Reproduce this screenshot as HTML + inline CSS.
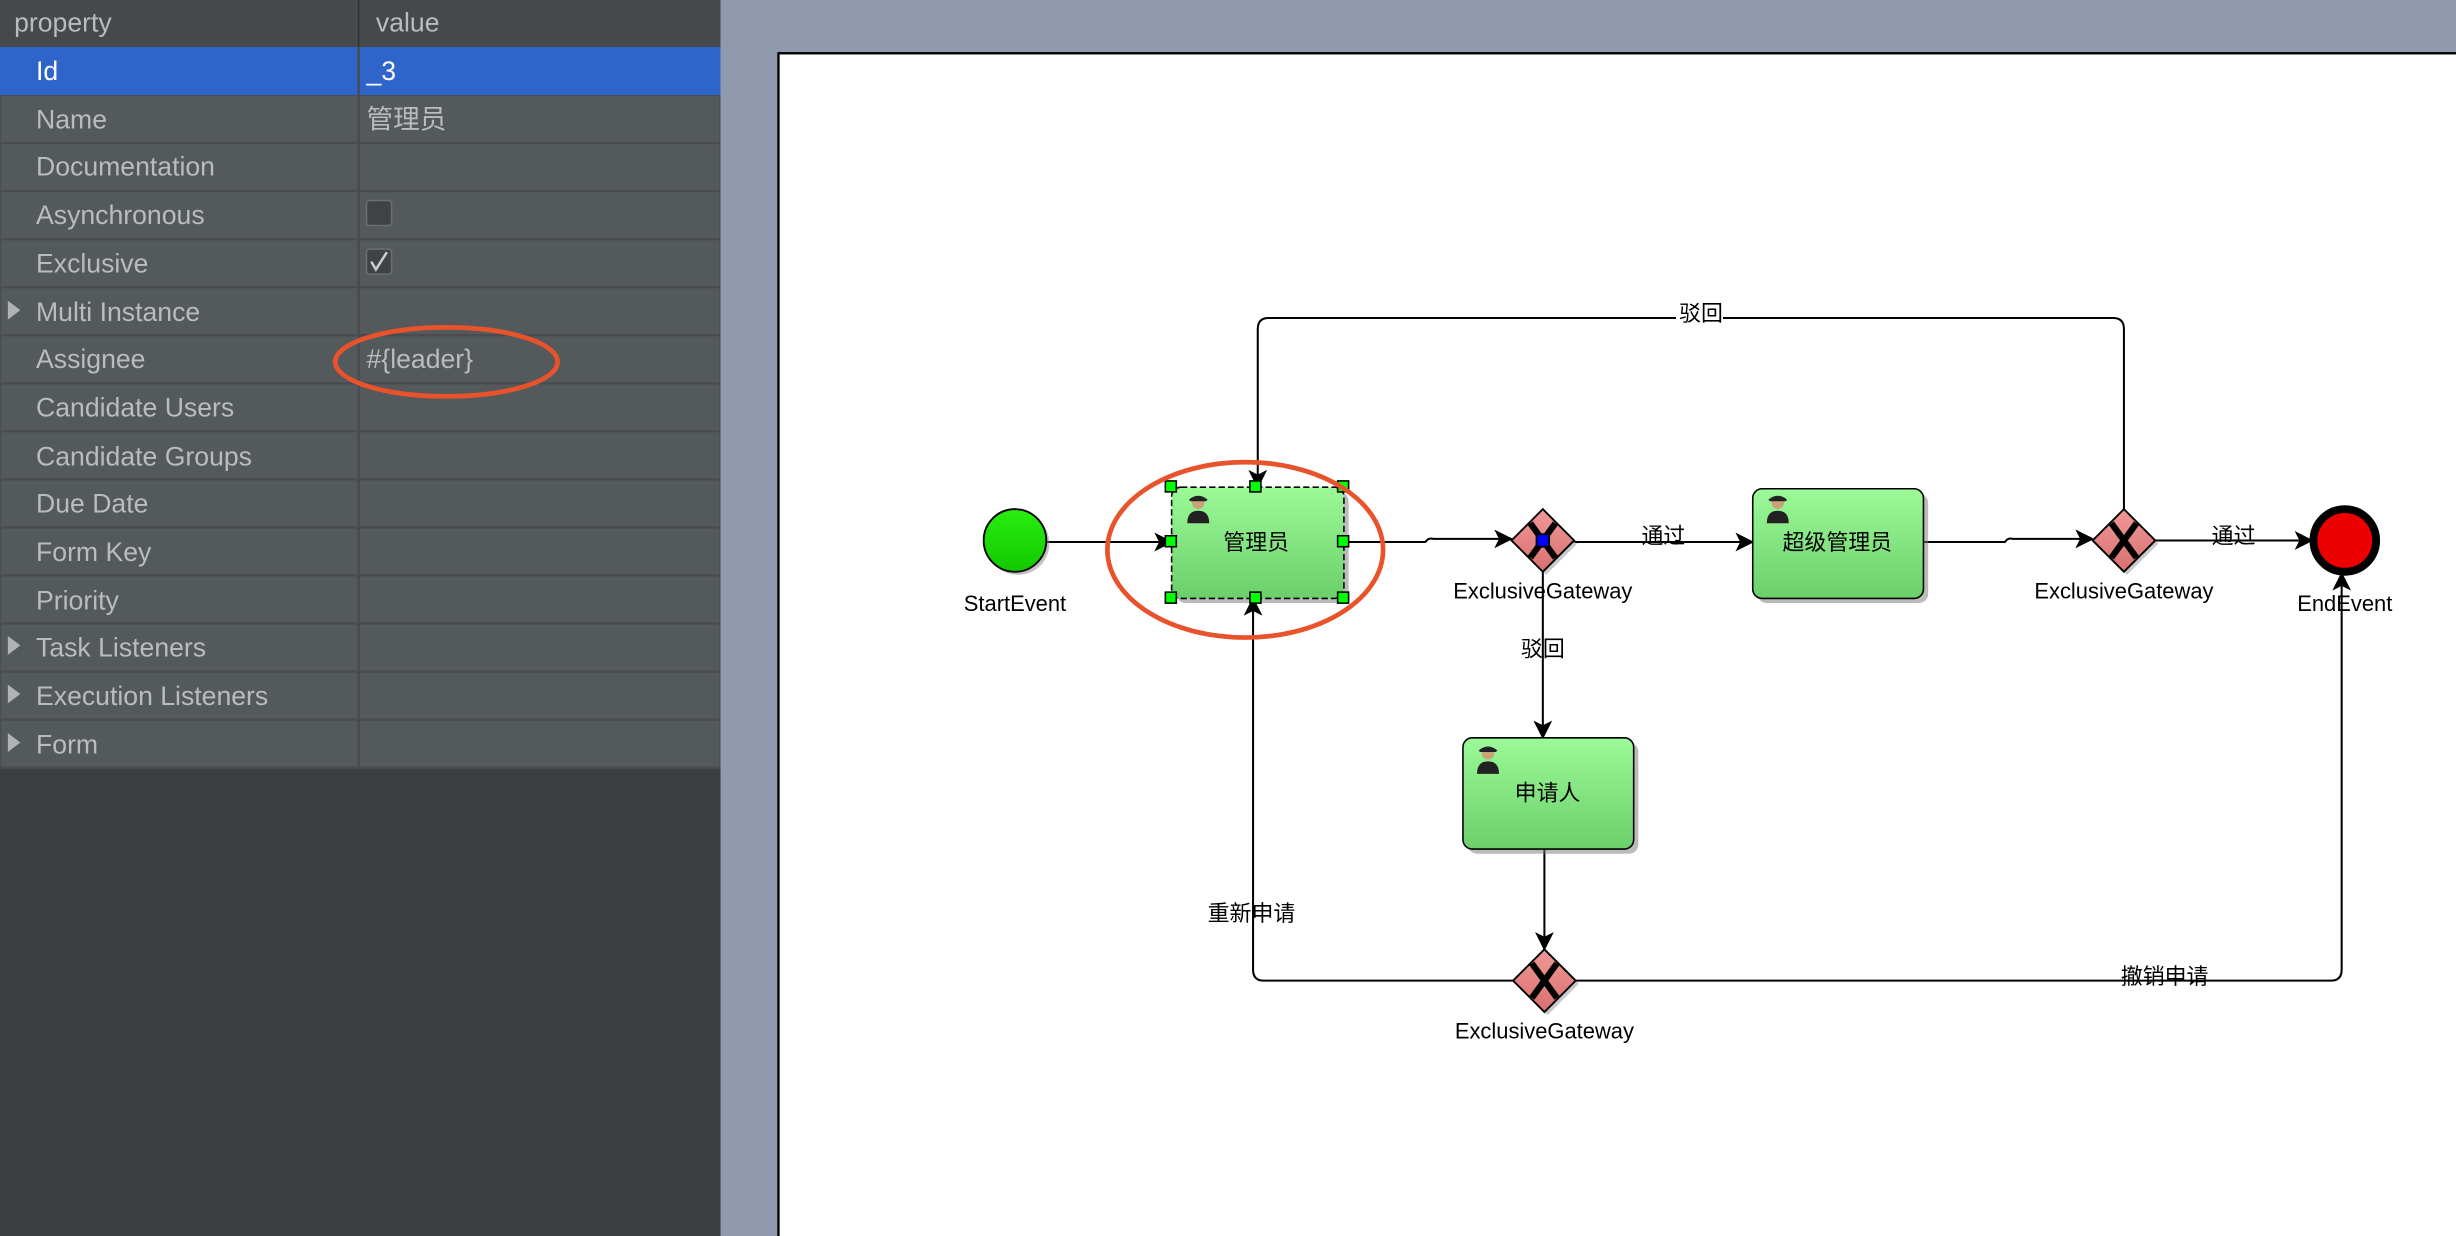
<!DOCTYPE html>
<html><head><meta charset="utf-8"><style>
html,body{margin:0;padding:0;width:2456px;height:1236px;overflow:hidden;background:#3b3e41}
svg{display:block}
.p{font-family:"Liberation Sans","Noto Sans CJK SC",sans-serif;font-size:17px;fill:#b9bcbd}
.d{font-family:"Liberation Sans","Noto Sans CJK SC",sans-serif;font-size:14px;fill:#000}
</style></head><body>
<svg width="2456" height="1236" viewBox="0 0 1568 789" preserveAspectRatio="none" xmlns="http://www.w3.org/2000/svg">
<defs>
<linearGradient id="g" x1="0" y1="0" x2="0" y2="1"><stop offset="0" stop-color="#9cfa98"/><stop offset="1" stop-color="#6bcf6a"/></linearGradient>
<linearGradient id="gs" x1="0" y1="0" x2="0" y2="1"><stop offset="0" stop-color="#2aee10"/><stop offset="1" stop-color="#12c800"/></linearGradient>
<linearGradient id="gr" x1="0" y1="0" x2="0" y2="1"><stop offset="0" stop-color="#f09898"/><stop offset="1" stop-color="#d87070"/></linearGradient>
<marker id="a" viewBox="0 0 12 12" refX="11" refY="6" markerWidth="12" markerHeight="12" markerUnits="userSpaceOnUse" orient="auto"><path d="M0,0 L12,6 L0,12 L3,6z" fill="#000"/></marker>
</defs>
<rect x="0" y="0" width="460" height="789" fill="#3b3e41"/>
<rect x="0" y="0" width="460" height="30" fill="#45494b"/>
<line x1="229" y1="0" x2="229" y2="30" stroke="#333" />
<text class="p" x="9" y="20" font-size="15">property</text>
<text class="p" x="240" y="20" font-size="15">value</text>
<g fill="#54595b" stroke="#4a4d4f" stroke-width="1.5">
<rect x="0" y="60.7" width="460" height="30.7"/><rect x="0" y="91.3" width="460" height="30.7"/><rect x="0" y="122" width="460" height="30.7"/><rect x="0" y="152.7" width="460" height="30.7"/><rect x="0" y="183.3" width="460" height="30.7"/><rect x="0" y="214" width="460" height="30.7"/><rect x="0" y="244.7" width="460" height="30.7"/><rect x="0" y="275.3" width="460" height="30.7"/><rect x="0" y="306" width="460" height="30.7"/><rect x="0" y="336.7" width="460" height="30.7"/><rect x="0" y="367.3" width="460" height="30.7"/><rect x="0" y="398" width="460" height="30.7"/><rect x="0" y="428.7" width="460" height="30.7"/><rect x="0" y="459.3" width="460" height="30.7"/>
</g>
<rect x="0" y="30" width="460" height="30.7" fill="#2f64ca"/>
<line x1="229" y1="30" x2="229" y2="490" stroke="#484b4d" stroke-width="1.5"/>
<text class="p" x="23" y="51" style="fill:#fff">Id</text><text class="p" x="234" y="51" style="fill:#fff">_3</text>
<text class="p" x="23" y="82">Name</text><text class="p" x="234" y="82">管理员</text>
<text class="p" x="23" y="112">Documentation</text>
<text class="p" x="23" y="143">Asynchronous</text>
<rect x="234" y="128" width="16" height="16" rx="2" fill="#3f4345" stroke="#6a6e70"/>
<text class="p" x="23" y="174">Exclusive</text>
<rect x="234" y="159" width="16" height="16" rx="2" fill="#3f4345" stroke="#6a6e70"/>
<path d="M237,167 L240,172 L247,161" fill="none" stroke="#ccc" stroke-width="1.6"/>
<text class="p" x="23" y="205">Multi Instance</text>
<text class="p" x="23" y="235">Assignee</text><text class="p" x="234" y="235">#{leader}</text>
<text class="p" x="23" y="266">Candidate Users</text>
<text class="p" x="23" y="297">Candidate Groups</text>
<text class="p" x="23" y="327">Due Date</text>
<text class="p" x="23" y="358">Form Key</text>
<text class="p" x="23" y="389">Priority</text>
<text class="p" x="23" y="419">Task Listeners</text>
<text class="p" x="23" y="450">Execution Listeners</text>
<text class="p" x="23" y="481">Form</text>
<g fill="#b0b3b4"><path d="M5,192 L13,198 L5,204z"/><path d="M5,406 L13,412 L5,418z"/><path d="M5,437 L13,443 L5,449z"/><path d="M5,468 L13,474 L5,480z"/></g>
<ellipse cx="285" cy="231" rx="71" ry="22" fill="none" stroke="#e8532b" stroke-width="3"/>
<rect x="460" y="0" width="1108" height="789" fill="#9199ae"/>
<rect x="497" y="34" width="1080" height="760" fill="#fff" stroke="#000" stroke-width="1.5"/>
<g fill="none" stroke="#000" stroke-width="1.3">
<path d="M668,346 L748,346" marker-end="url(#a)"/>
<path d="M858,346 L910,346 Q912,343 915,344 L965,344" marker-end="url(#a)"/>
<path d="M1005,346 L1119,346" marker-end="url(#a)"/>
<path d="M1228,346 L1280,346 Q1282,343 1285,344 L1336,344" marker-end="url(#a)"/>
<path d="M1376,345 L1476,345" marker-end="url(#a)"/>
<path d="M1356,325 L1356,210 Q1356,203 1349,203 L810,203 Q803,203 803,210 L803,311" marker-end="url(#a)"/>
<path d="M985,365 L985,471" marker-end="url(#a)"/>
<path d="M986,542 L986,606" marker-end="url(#a)"/>
<path d="M966,626 L807,626 Q800,626 800,619 L800,382" marker-end="url(#a)"/>
<path d="M1006,626 L1488,626 Q1495,626 1495,619 L1495,366" marker-end="url(#a)"/>
</g>
<g fill="#fff"><rect x="1070" y="192" width="30" height="16"/></g>
<text class="d" x="1072" y="205">驳回</text>
<text class="d" x="1048" y="347">通过</text>
<text class="d" x="1412" y="347">通过</text>
<text class="d" x="971" y="419">驳回</text>
<text class="d" x="771" y="588">重新申请</text>
<text class="d" x="1354" y="628">撤销申请</text>
<circle cx="650" cy="347" r="20" fill="#888" opacity=".5"/>
<circle cx="648" cy="345" r="20" fill="url(#gs)" stroke="#000" stroke-width="1.2"/>
<text class="d" x="648" y="390" text-anchor="middle">StartEvent</text>
<circle cx="1497" cy="345" r="20" fill="#e00" stroke="#000" stroke-width="5"/>
<text class="d" x="1497" y="390" text-anchor="middle">EndEvent</text>
<g>
<rect x="751" y="314" width="110" height="71" rx="6" fill="#777" opacity=".5"/>
<rect x="748" y="311" width="110" height="71" rx="6" fill="url(#g)" stroke="#000" stroke-dasharray="4,2"/>
<text class="d" x="802" y="351" text-anchor="middle">管理员</text>
<rect x="1122" y="315" width="109" height="70" rx="6" fill="#777" opacity=".5"/>
<rect x="1119" y="312" width="109" height="70" rx="6" fill="url(#g)" stroke="#000"/>
<text class="d" x="1173" y="351" text-anchor="middle">超级管理员</text>
<rect x="937" y="474" width="109" height="71" rx="6" fill="#777" opacity=".5"/>
<rect x="934" y="471" width="109" height="71" rx="6" fill="url(#g)" stroke="#000"/>
<text class="d" x="988" y="511" text-anchor="middle">申请人</text>
</g>
<g>
<g transform="translate(758,316)"><circle cx="7" cy="5" r="4" fill="#c9a27a"/><path d="M0,18 Q0,10 7,10 Q14,10 14,18z" fill="#222"/><path d="M1,3 Q7,-2 13,3 L12,4 L2,4z" fill="#222"/></g>
<g transform="translate(1128,316)"><circle cx="7" cy="5" r="4" fill="#c9a27a"/><path d="M0,18 Q0,10 7,10 Q14,10 14,18z" fill="#222"/><path d="M1,3 Q7,-2 13,3 L12,4 L2,4z" fill="#222"/></g>
<g transform="translate(943,476)"><circle cx="7" cy="5" r="4" fill="#c9a27a"/><path d="M0,18 Q0,10 7,10 Q14,10 14,18z" fill="#222"/><path d="M1,3 Q7,-2 13,3 L12,4 L2,4z" fill="#222"/></g>
</g>
<g fill="#0f0" stroke="#000" stroke-width="1">
<rect x="744" y="307" width="7" height="7"/><rect x="798" y="307" width="7" height="7"/><rect x="854" y="307" width="7" height="7"/>
<rect x="744" y="342" width="7" height="7"/><rect x="854" y="342" width="7" height="7"/>
<rect x="744" y="378" width="7" height="7"/><rect x="798" y="378" width="7" height="7"/><rect x="854" y="378" width="7" height="7"/>
</g>
<g stroke="#000" stroke-width="1.2">
<path d="M987,327 L1007,347 L987,367 L967,347z" fill="#777" opacity=".4" stroke="none"/>
<path d="M985,325 L1005,345 L985,365 L965,345z" fill="url(#gr)"/>
<path d="M977,334 L993,356 M993,334 L977,356" stroke-width="4"/>
<rect x="981" y="341" width="8" height="8" fill="#00f"/>
<path d="M1358,327 L1378,347 L1358,367 L1338,347z" fill="#777" opacity=".4" stroke="none"/>
<path d="M1356,325 L1376,345 L1356,365 L1336,345z" fill="url(#gr)"/>
<path d="M1348,334 L1364,356 M1364,334 L1348,356" stroke-width="4"/>
<path d="M988,608 L1008,628 L988,648 L968,628z" fill="#777" opacity=".4" stroke="none"/>
<path d="M986,606 L1006,626 L986,646 L966,626z" fill="url(#gr)"/>
<path d="M978,615 L994,637 M994,615 L978,637" stroke-width="4"/>
</g>
<text class="d" x="985" y="382" text-anchor="middle">ExclusiveGateway</text>
<text class="d" x="1356" y="382" text-anchor="middle">ExclusiveGateway</text>
<text class="d" x="986" y="663" text-anchor="middle">ExclusiveGateway</text>
<ellipse cx="795" cy="351" rx="88" ry="56" fill="none" stroke="#e8532b" stroke-width="3"/>
</svg>
</body></html>
